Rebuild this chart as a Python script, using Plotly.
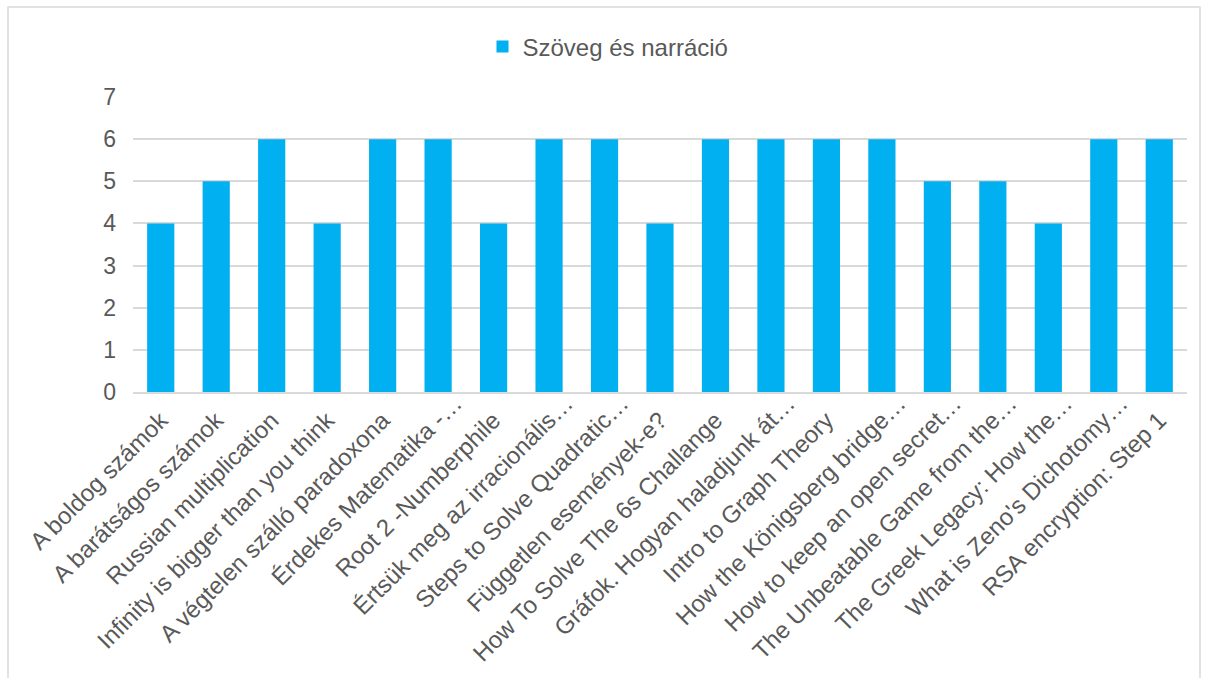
import plotly.graph_objects as go

categories = [
    "A boldog számok",
    "A barátságos számok",
    "Russian multiplication",
    "Infinity is bigger than you think",
    "A végtelen szálló paradoxona",
    "Érdekes Matematika -…",
    "Root 2 -Numberphile",
    "Értsük meg az irracionális…",
    "Steps to Solve Quadratic…",
    "Független események-e?",
    "How To Solve The 6s Challange",
    "Gráfok. Hogyan haladjunk át…",
    "Intro to Graph Theory",
    "How the Königsberg bridge…",
    "How to keep an open secret…",
    "The Unbeatable Game from the…",
    "The Greek Legacy: How the…",
    "What is Zeno's Dichotomy…",
    "RSA encryption: Step 1",
]
values = [4, 5, 6, 4, 6, 6, 4, 6, 6, 4, 6, 6, 6, 6, 5, 5, 4, 6, 6]
series_name = "Szöveg és narráció"
y_ticks = [0, 1, 2, 3, 4, 5, 6, 7]

W, H = 1206, 678
ML, MR, MT, MB = 133, 19, 97, 286
pw = W - ML - MR
ph = H - MT - MB

def px_x(p):
    return (p - ML) / pw

def px_y(p):
    return (H - MB - p) / ph

def tick_text(s):
    # truncated labels: the ellipsis overhangs the anchor, as in the original
    if s.endswith("…"):
        return s[:-1] + '<span style="letter-spacing:-1em">…</span>'
    return s

fig = go.Figure()
fig.add_trace(go.Bar(
    x=categories, y=values, name=series_name,
    marker=dict(color="#00B0F0", line=dict(width=0)),
))

font = "Liberation Sans, Arial, sans-serif"
fig.update_layout(
    width=W, height=H,
    margin=dict(l=ML, r=MR, t=MT, b=MB, autoexpand=False),
    paper_bgcolor="white", plot_bgcolor="white",
    bargap=0.51,
    showlegend=True,
    legend=dict(orientation="h", x=px_x(608), xanchor="center", y=px_y(47), yanchor="middle",
                font=dict(family=font, size=24, color="#595959"), itemwidth=30),
    font=dict(family=font, color="#595959"),
    xaxis=dict(tickangle=-45, tickfont=dict(size=24, color="#595959"),
               tickmode="array", tickvals=categories,
               ticktext=[tick_text(c) for c in categories],
               showline=True, linecolor="#d9d9d9", linewidth=1.5, layer="above traces",
               ticks="", automargin=False, showgrid=False, ticklabelstandoff=3),
    yaxis=dict(range=[0, 7], tickvals=y_ticks, tickfont=dict(size=23, color="#595959"),
               showgrid=True, gridcolor="#d9d9d9", gridwidth=1.5, zeroline=False,
               showline=False, ticks="", ticklabelstandoff=16, automargin=False),
    shapes=[dict(type="rect", xref="paper", yref="paper",
                 x0=px_x(8), x1=px_x(1200), y0=px_y(720), y1=px_y(7),
                 line=dict(color="#d9d9d9", width=1.5), fillcolor="rgba(0,0,0,0)", layer="below")],
)

fig.write_html("out.html")
